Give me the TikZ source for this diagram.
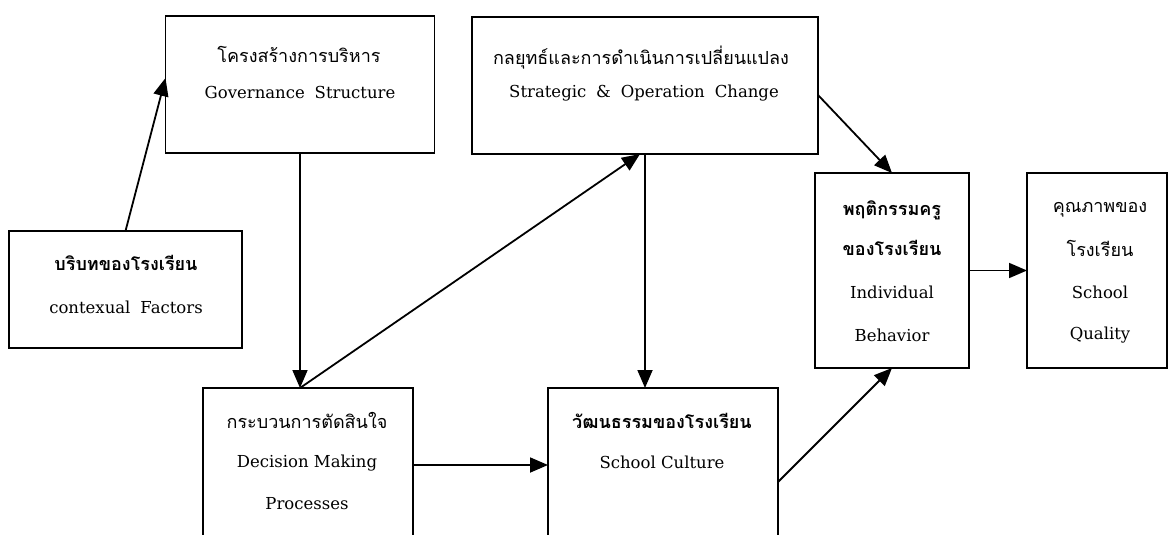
\documentclass[tikz,border=0pt]{standalone}
\usepackage{fontspec}
\newfontfamily\thai[Script=Thai]{Loma}
\newfontfamily\enf{DejaVu Serif}
\usetikzlibrary{arrows.meta}
\tikzset{
  box/.style={draw, line width=1.8pt, inner sep=0pt, outer sep=0pt},
  th/.style={font=\thai\fontsize{18}{22}\selectfont, inner sep=0pt},
  thb/.style={font=\thai\bfseries\fontsize{18}{22}\selectfont, inner sep=0pt},
  en/.style={font=\enf\fontsize{16.5}{22}\selectfont, inner sep=0pt},
  arr/.style={line width=1.8pt, -{Triangle[length=18pt,width=15pt]}}
}
\newcommand{\ws}{\hspace{0.6em}}
\begin{document}
\begin{tikzpicture}[x=1pt,y=-1pt]
\useasboundingbox (0,0) rectangle (1170,535);
\clip (0,0) rectangle (1170,535);
% boxes
\node[box, minimum width=269pt, minimum height=137pt] (gov) at (300,84.5) {};
\node[box, minimum width=346pt, minimum height=137pt] (strat) at (645,85.5) {};
\node[box, minimum width=233pt, minimum height=117pt] (ctx) at (125.5,289.5) {};
\node[box, minimum width=210pt, minimum height=172pt] (dec) at (308,474) {};
\node[box, minimum width=230pt, minimum height=172pt] (cult) at (663,474) {};
\node[box, minimum width=154pt, minimum height=195pt] (ind) at (892,270.5) {};
\node[box, minimum width=140pt, minimum height=195pt] (qual) at (1097,270.5) {};
% texts
\node[th] (govA) at (299,54) {โครงสร้างการบริหาร};
\node[en] (govB) at (300,92) {Governance\ws Structure};
\node[th] (stratA) at (641,58) {กลยุทธ์และการดำเนินการเปลี่ยนแปลง};
\node[en] (stratB) at (644,93) {Strategic\ws \&\ws Operation\ws Change};
\node[thb] (ctxA) at (126,263) {บริบทของโรงเรียน};
\node[en] (ctxB) at (126,307) {contexual\ws Factors};
\node[th] (decA) at (307,420) {กระบวนการตัดสินใจ};
\node[en] (decB) at (307,463) {Decision Making};
\node[en] (decC) at (307,504) {Processes};
\node[thb] (cultA) at (662,421) {วัฒนธรรมของโรงเรียน};
\node[en] (cultB) at (662,462) {School Culture};
\node[thb] (indA) at (892,210) {พฤติกรรมครู};
\node[thb] (indB) at (892,248) {ของโรงเรียน};
\node[en] (indC) at (892,292) {Individual};
\node[en] (indD) at (892,335) {Behavior};
\node[th] (qualA) at (1100,210) {คุณภาพของ};
\node[th] (qualB) at (1100,248) {โรงเรียน};
\node[en] (qualC) at (1100,292) {School};
\node[en] (qualD) at (1100,335) {Quality};
% connectors
\coordinate (decTop) at (gov.south |- dec.north);
\draw[arr] (ctx.north) -- ([yshift=6.5pt]gov.west);
\draw[arr] (gov.south) -- (decTop);
\draw[arr] (decTop) -- ([xshift=-5pt]strat.south);
\draw[arr] (strat.south) -- (strat.south |- cult.north);
\draw[arr] ([yshift=9pt]dec.east) -- ([yshift=9pt]dec.east -| cult.west);
\draw[arr] ([yshift=-8pt]cult.east) -- (ind.south);
\draw[arr] ([yshift=-9.5pt]strat.east) -- (ind.north);
\draw[arr] (ind.east) -- (qual.west);
\end{tikzpicture}
\end{document}
